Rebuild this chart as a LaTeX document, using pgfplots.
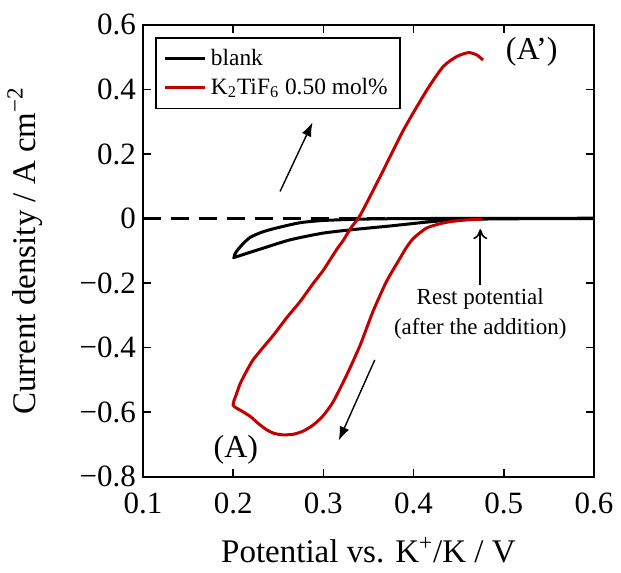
\documentclass[border=0pt]{standalone}
\usepackage{fontspec}
\setmainfont{Liberation Serif}
\usepackage{pgfplots}
\pgfplotsset{compat=1.18}
\usetikzlibrary{arrows.meta}
\definecolor{cvred}{RGB}{195,0,0}

\begin{document}
\begin{tikzpicture}
\begin{axis}[
    width=225.5pt, height=226pt,
    scale only axis,
    clip=false,
    xmin=0.1, xmax=0.6,
    ymin=-0.8, ymax=0.6,
    xtick={0.1,0.2,0.3,0.4,0.5,0.6},
    xticklabels={0.1,0.2,0.3,0.4,0.5,0.6},
    ytick={-0.8,-0.6,-0.4,-0.2,0,0.2,0.4,0.6},
    yticklabels={−0.8,−0.6,−0.4,−0.2,0,0.2,0.4,0.6},
    tick align=inside,
    major tick length=4pt,
    tick style={line width=0.8pt, black},
    axis line style={line width=1pt},
    ticklabel style={font=\fontsize{15.5}{18}\selectfont},
    xticklabel style={yshift=-4.5pt},
    xlabel={Potential vs. K\textsuperscript{+}/K / V},
    ylabel={Current density / A cm\textsuperscript{−2}},
    label style={font=\fontsize{16.5}{19}\selectfont},
    xlabel style={at={(axis description cs:0.5,-0.162)}, anchor=center},
    ylabel style={at={(axis description cs:-0.262,0.5)}, anchor=center},
    legend style={at={(0.027,0.973)}, anchor=north west, draw=black,
        line width=0.8pt, font=\fontsize{11.7}{14}\selectfont,
        inner xsep=4pt, inner ysep=3.5pt, row sep=1pt},
    legend cell align=left,
    legend image code/.code={\draw[#1] (0pt,0pt) -- (20pt,0pt);},
]
% zero line
\addplot[black, line width=1.2pt, dash pattern=on 9pt off 5pt, forget plot]
    coordinates {(0.1,0) (0.6,0)};

% blank
\addplot[black, line width=1.5pt, smooth, tension=0.4] coordinates {
    (0.600,0.000) (0.550,0.000) (0.500,-0.001) (0.465,-0.002) (0.440,-0.005)
    (0.411,-0.012) (0.374,-0.023) (0.337,-0.033) (0.300,-0.045) (0.263,-0.066)
    (0.233,-0.092) (0.215,-0.108) (0.204,-0.118) (0.201,-0.120) (0.202,-0.110)
    (0.205,-0.097) (0.211,-0.078) (0.219,-0.058) (0.232,-0.042) (0.247,-0.030)
    (0.274,-0.013) (0.300,-0.006) (0.340,-0.002) (0.400,0.000) (0.600,0.001)
};
\addlegendentry{blank}

% K2TiF6 0.50 mol%
\addplot[cvred, line width=1.5pt, smooth, tension=0.4] coordinates {
    (0.476,-0.002) (0.465,-0.003) (0.452,-0.006) (0.440,-0.010) (0.428,-0.017)
    (0.414,-0.030) (0.400,-0.061) (0.392,-0.090) (0.385,-0.123) (0.370,-0.195)
    (0.355,-0.288) (0.341,-0.391) (0.326,-0.484) (0.311,-0.567) (0.300,-0.610)
    (0.289,-0.639) (0.278,-0.658) (0.267,-0.668) (0.255,-0.670) (0.245,-0.665)
    (0.237,-0.654) (0.228,-0.635) (0.219,-0.613) (0.210,-0.597) (0.200,-0.578)
    (0.204,-0.541) (0.208,-0.510) (0.215,-0.472) (0.222,-0.438) (0.233,-0.400)
    (0.245,-0.360) (0.260,-0.305) (0.274,-0.258) (0.289,-0.200) (0.300,-0.160)
    (0.315,-0.095) (0.322,-0.068) (0.331,-0.027) (0.341,0.011) (0.363,0.130)
    (0.389,0.275) (0.415,0.399) (0.433,0.471) (0.448,0.502) (0.461,0.514)
    (0.470,0.507) (0.477,0.491)
};
\addlegendentry{K\textsubscript{2}TiF\textsubscript{6} 0.50 mol\%}

% annotations
\node[font=\fontsize{16}{19}\selectfont] at (axis cs:0.531,0.516) {(A’)};
\node[font=\fontsize{16}{19}\selectfont] at (axis cs:0.203,-0.717) {(A)};
\node[font=\fontsize{11.5}{15}\selectfont, align=center] at (axis cs:0.474,-0.295)
    {Rest potential\\(after the addition)};
\draw[-{To[length=5pt,width=7pt]}, line width=0.8pt] (axis cs:0.474,-0.206) -- (axis cs:0.474,-0.033);
\draw[-{Latex[length=7pt,width=5pt]}, line width=0.7pt] (axis cs:0.252,0.084) -- (axis cs:0.288,0.298);
\draw[-{Latex[length=7pt,width=5pt]}, line width=0.7pt] (axis cs:0.357,-0.438) -- (axis cs:0.317,-0.688);

% page frame
\path (rel axis cs:-0.317,-0.212) rectangle (rel axis cs:1.06,1.055);
\end{axis}
\end{tikzpicture}
\end{document}
